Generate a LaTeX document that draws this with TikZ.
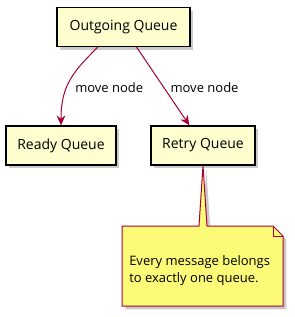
\documentclass[tikz,border=0pt]{standalone}
\usepackage{fontspec}
\setmainfont{Open Sans}
\usetikzlibrary{positioning,calc,arrows.meta,shadows}
\definecolor{qfill}{HTML}{FEFECE}
\definecolor{qline}{HTML}{A80036}
\definecolor{nfill}{HTML}{FBFB77}
\pgfdeclarelayer{background}
\pgfsetlayers{background,main}
\tikzset{
  queue/.style={draw=black, fill=qfill, line width=1.1pt, minimum height=29pt, inner sep=0pt,
    font=\fontsize{10.5}{12}\selectfont,
    drop shadow={shadow xshift=2.5pt, shadow yshift=-2.5pt, opacity=0.35, fill=black!60}},
  mv/.style={draw=qline, line width=0.75pt, -{Stealth[length=7.5pt, width=6.5pt, inset=2.5pt]}},
  lbl/.style={font=\fontsize{9.75}{11}\selectfont, inner sep=2pt, anchor=west},
  notetxt/.style={font=\fontsize{9.75}{12.75}\selectfont, align=left, inner sep=0pt, anchor=west}}

\begin{document}
\begin{tikzpicture}[x=0.75pt, y=-0.75pt]
\useasboundingbox (0,0) rectangle (294,317);
\node[queue, minimum width=99.75pt] (out) at (123.5,27) {Outgoing Queue};
\node[queue, minimum width=82.5pt] (ready) at (61,145.5) {Ready Queue};
\node[queue, minimum width=78pt] (retry) at (203,145.5) {Retry Queue};
\draw[mv] (out.218) .. controls +(-25,25) and +(0,-40) .. node[lbl, pos=0.6, xshift=4pt] {move node} (ready.north);
\draw[mv] (out.303) -- node[lbl, pos=0.52, xshift=2.5pt] {move node} (retry.124);
% note attached to the retry queue
\coordinate (nnw) at (122,226);
\coordinate (nse) at (283,306);
\node[notetxt] (note) at (129,270.5) {Every message belongs\\to exactly one queue.};
\begin{pgfonlayer}{background}
\fill[black!60, opacity=0.35, transform canvas={xshift=2.5pt, yshift=-2.5pt}]
  (nnw) -- ($(retry.south |- nnw)+(-4,0)$) -- (retry.south) -- ($(retry.south |- nnw)+(4,0)$)
  -- ($(nse |- nnw)+(-10,0)$) -- ($(nse |- nnw)+(0,10)$) -- (nse) -- (nnw |- nse) -- cycle;
\filldraw[fill=nfill, draw=qline, line width=0.75pt]
  (nnw) -- ($(retry.south |- nnw)+(-4,0)$) -- (retry.south) -- ($(retry.south |- nnw)+(4,0)$)
  -- ($(nse |- nnw)+(-10,0)$) -- ($(nse |- nnw)+(0,10)$) -- (nse) -- (nnw |- nse) -- cycle;
\draw[qline, line width=0.75pt] ($(nse |- nnw)+(-10,0)$) |- ($(nse |- nnw)+(0,10)$);
\end{pgfonlayer}
\end{tikzpicture}
\end{document}
